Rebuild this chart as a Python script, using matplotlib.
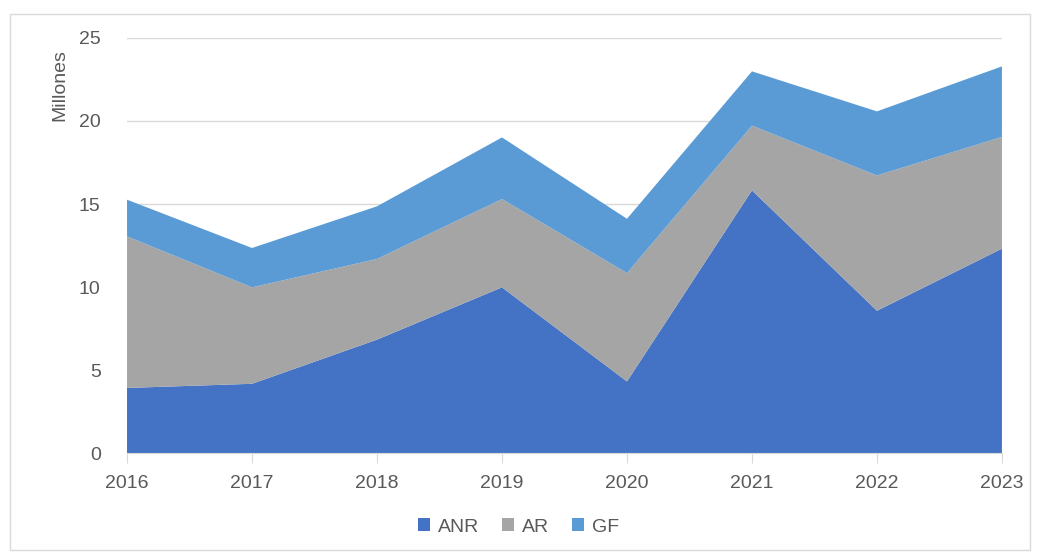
import matplotlib.pyplot as plt
from matplotlib.patches import Patch, Rectangle

years = [2016, 2017, 2018, 2019, 2020, 2021, 2022, 2023]
# values in millions
anr = [3.92, 4.17, 6.83, 9.98, 4.31, 15.82, 8.57, 12.31]
ar = [9.13, 5.81, 4.86, 5.32, 6.53, 3.90, 8.15, 6.73]
gf = [2.21, 2.37, 3.17, 3.71, 3.27, 3.27, 3.86, 4.25]
series_names = ["ANR", "AR", "GF"]
colors = ["#4472C4", "#A5A5A5", "#5B9BD5"]

plt.rcParams['font.family'] = ['Liberation Sans', 'DejaVu Sans']
text_color = "#595959"
grid_color = "#D9D9D9"

fig = plt.figure(figsize=(10.37, 5.53), dpi=100)
ax = fig.add_axes([0.1225, 0.1808, 0.8437, 0.7505])

ax.stackplot(years, anr, ar, gf, colors=colors, labels=series_names,
             linewidth=0, zorder=2)

ax.set_xlim(years[0], years[-1])
ax.set_ylim(0, 25)
ax.set_yticks([0, 5, 10, 15, 20, 25])
ax.set_xticks(years)
ax.grid(axis='y', color=grid_color, linewidth=1, zorder=0)
ax.set_axisbelow(True)

for side in ['top', 'right', 'left']:
    ax.spines[side].set_visible(False)
ax.spines['bottom'].set_color(grid_color)
ax.spines['bottom'].set_zorder(3)

ax.tick_params(axis='y', length=0, pad=19, labelsize=14, labelcolor=text_color)
ax.tick_params(axis='x', length=7, color=grid_color, direction='out',
               pad=9, labelsize=14, labelcolor=text_color)

fig.text(60 / 1037, 1 - 85 / 553, "Millones", rotation=90, ha='center',
         va='center', fontsize=14, color=text_color)

handles = [Patch(facecolor=c, edgecolor='none') for c in colors]
fig.legend(handles, series_names, loc='center', bbox_to_anchor=(0.5, 1 - 527 / 553),
           ncol=3, frameon=False, fontsize=14, labelcolor=text_color,
           handlelength=0.6, handleheight=0.6, handletextpad=0.4, columnspacing=1.2)

fig.patches.append(Rectangle((10 / 1037, 3 / 553), 1020 / 1037, 536 / 553,
                             transform=fig.transFigure, fill=False,
                             edgecolor=grid_color, linewidth=1))

fig.savefig("out.png", dpi=100)
